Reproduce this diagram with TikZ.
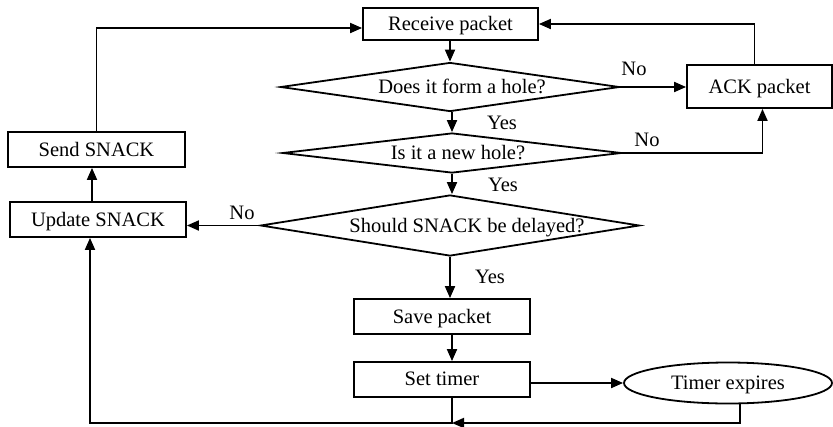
\documentclass[tikz,border=0pt]{standalone}
\usepackage{fontspec}
\setmainfont{Liberation Serif}
\usetikzlibrary{shapes.geometric,arrows.meta}

\tikzset{
  arr/.style={-{Triangle[length=12pt,width=10pt]}},
  box/.style={draw, rectangle, inner sep=0pt, minimum width=176pt, minimum height=35pt},
  decide/.style={draw, diamond, aspect=1, inner sep=0pt},
  lbl/.style={inner sep=0pt}
}

\begin{document}
\begin{tikzpicture}[x=1pt, y=-1pt, line width=1.8pt,
    every node/.style={font=\fontsize{20.5}{24}\selectfont, text depth=1pt}]
  \useasboundingbox (0,0) rectangle (833,426);

  \node[box, minimum width=175pt, minimum height=32pt] (receive) at (450.5,24)  {Receive packet};
  \node[box, minimum width=145pt, minimum height=43pt] (ack)     at (759.5,86.5) {ACK packet};
  \node[box, minimum width=177pt] (send)   at (96.5,149.5) {Send SNACK};
  \node[box] (update) at (98,219.5)  {Update SNACK};
  \node[box] (save)   at (442,316.5) {Save packet};
  \node[box] (settimer) at (442,379.5) {Set timer};
  \node[draw, ellipse, inner sep=0pt, minimum width=208pt, minimum height=41pt] (expire) at (728,383) {Timer expires};

  \node[decide, minimum width=339pt, minimum height=49pt] (hole)  at (450,87)
    {\makebox[0pt]{\hspace{24pt}Does it form a hole?}};
  \node[decide, minimum width=339pt, minimum height=40pt] (newhole) at (452,153)
    {\makebox[0pt]{\hspace{12pt}Is it a new hole?}};
  \node[decide, minimum width=379pt, minimum height=61pt] (delay) at (450,225.5)
    {\makebox[0pt]{\hspace{34pt}Should SNACK be delayed?}};

  \coordinate (join) at (452,423);

  % main column
  \draw[arr] (receive.south -| hole.north) -- (hole.north);
  \draw[arr] (hole.south -| newhole.north) -- (newhole.north);
  \draw[arr] (newhole.south) -- (newhole.south |- delay.north);
  \draw[arr] (delay.south) -- (delay.south |- save.north);
  \draw[arr] ([xshift=10pt]save.south) -- ([xshift=10pt]settimer.north);
  \draw[arr] (settimer.east |- expire.west) -- (expire.west);

  % branches
  \draw[arr] (hole.east) -- (hole.east -| ack.west);
  \draw[arr] (newhole.east) -| ([xshift=3pt]ack.south);
  \draw[arr] ([xshift=-5pt]ack.north) |- (receive.east);
  \draw[arr] (delay.west) -- (delay.west -| update.east);
  \draw[arr] ([xshift=-6pt]update.north) -- ([xshift=-6pt]update.north |- send.south);
  \draw[arr] (send.north) |- ([yshift=-4pt]receive.west);

  % timer loop
  \draw[arr] ([xshift=12pt]expire.south) |- (join);
  \draw[arr] ([xshift=10pt]settimer.south) -- (join) -| ([xshift=-8pt]update.south);

  \node[lbl] (yes1) at (502,123) {Yes};
  \node[lbl] (yes2) at (503,185) {Yes};
  \node[lbl] (yes3) at (490,277) {Yes};
  \node[lbl] (no1)  at (634,69)  {No};
  \node[lbl] (no2)  at (647,140) {No};
  \node[lbl] (no3)  at (242,213) {No};
\end{tikzpicture}
\end{document}
